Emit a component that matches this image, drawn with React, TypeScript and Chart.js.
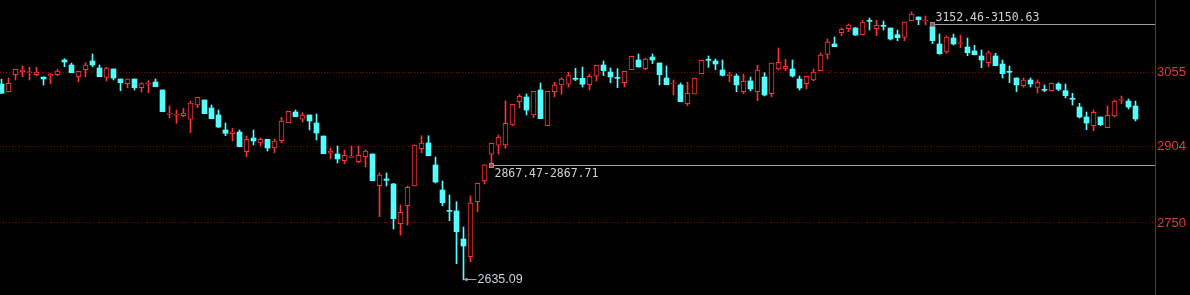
import { useEffect, useRef } from 'react';
import { Chart, registerables } from 'chart.js';

Chart.register(...registerables);

// Daily candles (oldest -> newest)
const opens = [
  3030.8, 3015.2, 3049.6, 3055.0, 3053.6, 3049.6, 3044.9, 3047.0, 3049.6, 3079.3,
  3069.2, 3045.5, 3059.7, 3077.3, 3063.1, 3044.3, 3061.1, 3040.9, 3031.4, 3040.9,
  3023.3, 3030.2, 3034.8, 3018.7, 2969.6, 2967.6, 2966.8, 2959.5, 2988.4, 2998.5,
  2982.3, 2968.2, 2937.9, 2930.4, 2933.8, 2894.0, 2921.7, 2911.6, 2919.1, 2901.5,
  2916.2, 2952.6, 2974.2, 2959.5, 2968.2, 2952.0, 2925.7, 2890.8, 2889.4, 2875.8,
  2882.7, 2873.8, 2883.9, 2889.4, 2825.3, 2838.9, 2828.8, 2748.6, 2784.9, 2824.7,
  2900.1, 2911.6, 2867.2, 2816.6, 2774.2, 2774.2, 2717.6, 2681.9, 2793.0, 2834.8,
  2888.8, 2907.0, 2907.6, 2948.0, 2995.0, 3004.5, 2968.2, 3018.7, 2946.5, 3015.2,
  3028.8, 3030.2, 3041.5, 3042.3, 3029.4, 3046.4, 3069.2, 3055.0, 3044.3, 3033.4,
  3059.7, 3079.3, 3061.7, 3085.3, 3073.2, 3042.9, 3030.8, 3028.8, 2991.0, 3010.6,
  3051.6, 3079.9, 3077.3, 3059.1, 3047.6, 3047.0, 3015.2, 3036.9, 3015.2, 3044.9,
  3011.2, 3061.1, 3061.7, 3061.1, 3040.9, 3031.4, 3038.9, 3057.7, 3090.8, 3111.6,
  3134.4, 3142.5, 3143.9, 3130.4, 3158.7, 3142.5, 3148.6, 3143.9, 3130.4, 3125.1,
  3158.7, 3166.2, 3158.1, 3147.5, 3111.6, 3095.4, 3123.7, 3112.2, 3105.5, 3097.5,
  3087.4, 3073.8, 3087.4, 3071.2, 3055.6, 3042.9, 3027.4, 3038.9, 3024.1, 3019.3,
  3017.3, 3030.8, 3017.3, 3001.1, 2984.3, 2964.1, 2946.5, 2964.1, 2942.5, 2966.1,
  2997.9, 2996.4, 2986.3,
];

const highs = [
  3040.3, 3042.9, 3060.5, 3067.2, 3064.5, 3064.5, 3044.9, 3052.4, 3060.5, 3081.9,
  3073.2, 3056.5, 3073.8, 3091.4, 3069.2, 3064.5, 3061.1, 3040.9, 3040.9, 3040.9,
  3033.4, 3037.5, 3040.9, 3018.7, 2986.3, 2978.3, 2981.7, 2996.4, 3003.9, 2998.5,
  2988.4, 2978.3, 2952.0, 2941.3, 2937.9, 2925.7, 2937.9, 2921.7, 2919.1, 2919.7,
  2963.5, 2975.6, 2978.3, 2972.8, 2968.2, 2970.2, 2925.7, 2901.5, 2905.5, 2897.5,
  2905.5, 2905.5, 2897.5, 2889.4, 2851.0, 2851.0, 2830.2, 2786.3, 2824.7, 2907.6,
  2926.3, 2926.3, 2883.3, 2834.8, 2806.5, 2793.0, 2741.9, 2804.5, 2830.2, 2867.71,
  2911.0, 2927.8, 2996.4, 2989.8, 3010.0, 3010.6, 3016.0, 3032.8, 3016.0, 3034.2,
  3043.5, 3054.4, 3062.5, 3065.1, 3050.4, 3068.6, 3077.3, 3063.1, 3061.7, 3056.5,
  3086.8, 3091.4, 3082.7, 3091.4, 3073.2, 3067.2, 3038.9, 3032.8, 3034.8, 3042.9,
  3078.7, 3087.4, 3081.3, 3079.3, 3054.4, 3051.0, 3051.0, 3044.9, 3068.6, 3053.6,
  3073.2, 3103.5, 3080.7, 3079.3, 3047.0, 3046.4, 3061.1, 3092.8, 3121.7, 3125.8,
  3143.9, 3152.0, 3145.3, 3159.5, 3164.1, 3159.5, 3158.1, 3143.9, 3139.9, 3156.1,
  3176.3, 3166.2, 3168.2, 3152.46, 3131.8, 3127.8, 3131.8, 3129.8, 3123.7, 3109.0,
  3099.5, 3097.5, 3092.8, 3079.3, 3067.2, 3042.9, 3042.9, 3042.9, 3038.9, 3028.8,
  3032.8, 3033.4, 3030.8, 3012.0, 2991.8, 2974.2, 2978.3, 2964.1, 2986.3, 2998.5,
  3006.6, 3000.5, 2996.4,
];

const lows = [
  3012.0, 3015.2, 3038.9, 3045.5, 3038.9, 3047.0, 3028.8, 3031.4, 3047.6, 3065.7,
  3053.6, 3035.4, 3045.5, 3065.7, 3045.5, 3037.5, 3038.9, 3017.3, 3023.3, 3018.7,
  3014.6, 3013.2, 3025.3, 2974.8, 2962.1, 2951.4, 2964.7, 2932.4, 2982.9, 2970.8,
  2960.7, 2942.5, 2926.3, 2915.6, 2904.1, 2883.9, 2907.6, 2905.5, 2895.4, 2892.0,
  2912.2, 2952.6, 2964.7, 2954.0, 2937.9, 2917.7, 2890.0, 2879.3, 2871.2, 2869.8,
  2882.7, 2871.8, 2863.1, 2835.4, 2762.7, 2824.7, 2737.9, 2725.7, 2745.9, 2824.7,
  2892.0, 2885.9, 2830.8, 2784.9, 2754.6, 2667.8, 2635.09, 2671.8, 2772.8, 2828.8,
  2867.47, 2889.4, 2900.9, 2946.5, 2982.9, 2968.2, 2962.7, 2960.7, 2946.5, 3005.1,
  3010.0, 3024.7, 3037.5, 3024.7, 3018.7, 3036.9, 3047.6, 3033.4, 3023.3, 3024.7,
  3059.7, 3065.1, 3059.7, 3071.8, 3028.8, 3029.4, 3008.6, 2995.0, 2987.0, 3010.6,
  3051.6, 3064.5, 3059.7, 3047.0, 3035.4, 3015.2, 3011.2, 3016.7, 2997.1, 3006.6,
  3005.1, 3059.1, 3057.7, 3044.9, 3018.7, 3021.3, 3036.9, 3057.7, 3081.3, 3106.2,
  3128.4, 3136.5, 3128.4, 3130.4, 3139.9, 3128.4, 3139.9, 3119.7, 3118.3, 3118.3,
  3158.7, 3150.6, 3150.63, 3112.2, 3090.8, 3092.8, 3109.6, 3104.1, 3088.0, 3089.4,
  3063.7, 3065.7, 3067.8, 3042.9, 3033.4, 3015.2, 3024.1, 3024.7, 3012.6, 3015.2,
  3016.7, 3017.3, 3002.5, 2988.4, 2962.1, 2938.5, 2936.4, 2946.5, 2942.5, 2964.1,
  2991.0, 2980.3, 2956.1,
];

const closes = [
  3012.0, 3032.2, 3060.5, 3059.1, 3055.0, 3055.0, 3040.9, 3050.4, 3057.1, 3075.2,
  3053.6, 3056.5, 3069.2, 3069.2, 3045.5, 3063.1, 3042.9, 3033.4, 3040.9, 3023.3,
  3031.4, 3033.4, 3025.3, 2974.8, 2970.2, 2968.2, 2972.2, 2992.4, 3003.9, 2970.8,
  2960.7, 2943.9, 2931.2, 2934.4, 2904.1, 2919.1, 2915.6, 2919.1, 2901.5, 2915.6,
  2956.1, 2975.6, 2964.7, 2968.2, 2956.1, 2931.8, 2890.0, 2895.4, 2879.3, 2886.7,
  2883.3, 2886.7, 2895.4, 2835.4, 2846.9, 2836.2, 2758.7, 2771.6, 2822.1, 2907.6,
  2911.6, 2885.9, 2832.8, 2791.0, 2773.6, 2732.4, 2703.5, 2790.4, 2830.2, 2867.71,
  2911.0, 2923.7, 2951.4, 2989.8, 3006.0, 2978.3, 3016.0, 2960.7, 3016.0, 3028.8,
  3040.9, 3047.6, 3040.3, 3030.2, 3046.4, 3068.6, 3057.7, 3044.9, 3042.3, 3056.5,
  3086.8, 3065.1, 3081.3, 3079.3, 3049.6, 3029.4, 3032.2, 2995.0, 3012.0, 3042.9,
  3078.7, 3078.7, 3071.2, 3048.4, 3051.0, 3028.8, 3036.3, 3020.7, 3059.1, 3008.6,
  3073.2, 3074.6, 3066.6, 3047.0, 3022.7, 3046.4, 3055.0, 3089.4, 3115.6, 3106.2,
  3141.3, 3150.0, 3129.8, 3156.1, 3157.5, 3149.4, 3147.4, 3121.7, 3124.3, 3156.1,
  3172.2, 3160.7, 3159.5, 3118.3, 3092.0, 3125.8, 3111.6, 3113.0, 3094.0, 3090.0,
  3079.3, 3094.0, 3067.8, 3051.6, 3054.4, 3028.8, 3038.9, 3030.8, 3034.8, 3018.1,
  3032.2, 3020.1, 3007.2, 2999.9, 2964.1, 2952.0, 2973.6, 2948.6, 2967.6, 2996.4,
  2999.9, 2984.3, 2960.1,
];

// Price axis tick values (top one is cut off by the frame)
const yTicks = [2750, 2904, 3055, 3209];

// Gap annotations: candle index, price, label
const gapIndexes = [133, 70];
const gapPrices = [3152.46, 2867.47];
const gapLabels = ['3152.46-3150.63', '2867.47-2867.71'];
const gapLabelAbove = [true, false];

// Lowest-low annotation
const lowIndex = 66;
const lowPrice = 2635.09;
const lowLabel = '2635.09';

const UP = '#ff3232';
const DOWN = '#54ffff';

export default function App() {
  const ref = useRef<HTMLCanvasElement>(null);

  useEffect(() => {
    if (!ref.current) return;
    const isUp = (i: number) => closes[i] >= opens[i];
    const bodies = opens.map((o, i) => ({ x: i, y: [o, closes[i]] }));
    const wicks = opens.map((_, i) => ({ x: i, y: [lows[i], highs[i]] }));

    const annot = {
      id: 'annot',
      afterDatasetsDraw(chart: any) {
        const { ctx, chartArea, scales } = chart;
        const xs = scales.x;
        const ys = scales.y;
        ctx.save();
        gapIndexes.forEach((gi, k) => {
          const px = xs.getPixelForValue(gi);
          const py = Math.round(ys.getPixelForValue(gapPrices[k])) + 0.5;
          ctx.strokeStyle = '#a0a0a0';
          ctx.lineWidth = 1;
          ctx.beginPath();
          ctx.moveTo(px, py);
          ctx.lineTo(chartArea.right, py);
          ctx.stroke();
          ctx.fillStyle = '#c04040';
          ctx.fillRect(px - 1.5, py - 1.5, 3, 3);
          ctx.strokeStyle = '#909090';
          ctx.strokeRect(px - 2, py - 2, 4, 4);
          ctx.fillStyle = '#d2d2d2';
          ctx.font = '11.5px "DejaVu Sans Mono", monospace';
          ctx.textAlign = 'left';
          ctx.textBaseline = 'alphabetic';
          ctx.fillText(gapLabels[k], px + 3, gapLabelAbove[k] ? py - 4 : py + 11);
        });
        // low arrow
        const lx = xs.getPixelForValue(lowIndex);
        const ly = Math.round(ys.getPixelForValue(lowPrice)) - 0.5;
        ctx.strokeStyle = '#a0a0a0';
        ctx.fillStyle = '#a0a0a0';
        ctx.lineWidth = 1;
        ctx.beginPath();
        ctx.moveTo(lx, ly);
        ctx.lineTo(lx + 13, ly);
        ctx.stroke();
        ctx.beginPath();
        ctx.moveTo(lx, ly);
        ctx.lineTo(lx + 4, ly - 2);
        ctx.lineTo(lx + 4, ly + 2);
        ctx.closePath();
        ctx.fill();
        ctx.fillStyle = '#c8d0e0';
        ctx.font = '12.5px "Liberation Sans", Arial, sans-serif';
        ctx.textAlign = 'left';
        ctx.textBaseline = 'middle';
        ctx.fillText(lowLabel, lx + 14, ly + 0.5);
        ctx.restore();
      },
    };

    const chart = new Chart(ref.current, {
      type: 'bar',
      data: {
        datasets: [
          {
            data: bodies as any,
            barThickness: 5,
            grouped: false,
            minBarLength: 1,
            borderSkipped: false,
            backgroundColor: (c: any) => (isUp(c.dataIndex) ? '#000000' : DOWN),
            borderColor: (c: any) => (isUp(c.dataIndex) ? UP : DOWN),
            borderWidth: (c: any) => (isUp(c.dataIndex) ? 1 : 0),
          } as any,
          {
            data: wicks as any,
            barThickness: 1,
            grouped: false,
            borderWidth: 0,
            backgroundColor: (c: any) => (isUp(c.dataIndex) ? UP : DOWN),
          } as any,
        ],
      },
      options: {
        responsive: false,
        animation: false,
        events: [],
        layout: { padding: 0 },
        plugins: { legend: { display: false }, tooltip: { enabled: false } },
        scales: {
          x: {
            type: 'linear',
            display: false,
            offset: false,
            min: -1.5 / 7,
            max: -1.5 / 7 + 1155 / 7,
            grid: { display: false },
          },
          y: {
            position: 'right',
            min: 2604.5,
            max: 3200.5,
            afterBuildTicks: (s: any) => {
              s.ticks = yTicks.map((v) => ({ value: v }));
            },
            afterFit: (s: any) => {
              s.width = 35;
              s.paddingTop = 0;
              s.paddingBottom = 0;
            },
            grid: { color: '#850000', lineWidth: 1, drawTicks: false },
            border: { display: true, color: '#a01818', width: 1, dash: [1, 2] },
            ticks: {
              color: '#e03c3c',
              padding: 2,
              autoSkip: false,
              font: { family: '"Liberation Sans", Arial, sans-serif', size: 13 },
              callback: (v: any) => String(v),
            },
          },
        },
      } as any,
      plugins: [annot],
    });
    return () => chart.destroy();
  }, []);

  return (
    <div style={{ position: 'fixed', left: 0, top: 0, width: 1190, height: 295, background: '#000' }}>
      <canvas ref={ref} width={1190} height={295} style={{ display: 'block' }} />
    </div>
  );
}
